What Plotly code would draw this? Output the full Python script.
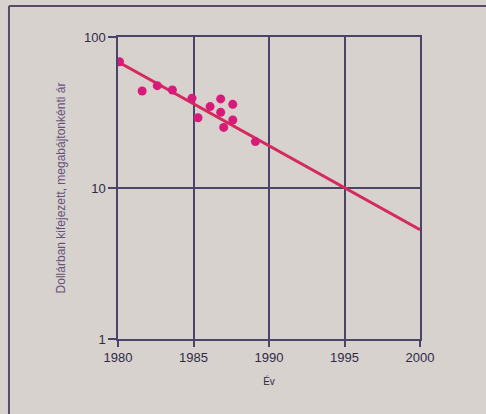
import plotly.graph_objects as go

# Data
years = [1980.1, 1981.6, 1982.6, 1983.6, 1984.9, 1985.3, 1986.1, 1986.8, 1986.8,
         1987.6, 1987.6, 1987.0, 1989.1]
prices = [68.6, 43.9, 47.6, 44.6, 39.3, 29.2, 34.6, 38.9, 31.7, 35.8, 28.2, 25.2, 20.3]

trend_years = [1980, 2000]
trend_prices = [68.6, 5.3]

x_ticks = [1980, 1985, 1990, 1995, 2000]
y_ticks = [1, 10, 100]
y_tick_labels = ["1", "10", "100"]

bg = "#d8d2cf"
grid = "#4a4468"
text_col = "#2f2a45"

fig = go.Figure()
fig.add_trace(go.Scatter(
    x=trend_years, y=trend_prices, mode="lines",
    line=dict(color="#d42a5c", width=3), showlegend=False, hoverinfo="skip"))
fig.add_trace(go.Scatter(
    x=years, y=prices, mode="markers",
    marker=dict(color="#d81b7a", size=9), showlegend=False))

fig.update_layout(
    width=486, height=414,
    margin=dict(l=118, r=66, t=37, b=75, autoexpand=False),
    paper_bgcolor=bg, plot_bgcolor=bg,
    font=dict(family="Liberation Sans, Arial, sans-serif", color=text_col),
    xaxis=dict(
        range=[1980, 2000], tickvals=x_ticks,
        showgrid=True, gridcolor=grid, gridwidth=1.5,
        showline=True, linecolor=grid, linewidth=1.5, mirror=True,
        ticks="outside", ticklen=6, tickcolor=grid, tickwidth=1.5,
        tickfont=dict(size=13, color=text_col),
        zeroline=False,
        title=dict(text="Év", font=dict(size=10, color=text_col), standoff=14),
    ),
    yaxis=dict(
        type="log", range=[0, 2], tickvals=y_ticks, ticktext=y_tick_labels,
        showgrid=True, gridcolor=grid, gridwidth=1.5,
        showline=True, linecolor=grid, linewidth=1.5, mirror=True,
        ticks="outside", ticklen=8, tickcolor=grid, tickwidth=1.5,
        tickfont=dict(size=13, color=text_col),
        zeroline=False,
        title=dict(text="Dollárban kifejezett, megabájtonkénti ár",
                   font=dict(size=12, color="#65517a"), standoff=16),
    ),
    shapes=[
        dict(type="line", xref="paper", yref="paper", x0=-0.361, x1=1.25, y0=1.103, y1=1.103,
             line=dict(color="#5a4a66", width=2)),
        dict(type="line", xref="paper", yref="paper", x0=-0.361, x1=-0.361, y0=1.103, y1=-0.25,
             line=dict(color="#5a4a66", width=2)),
    ],
)

fig.write_html(
    "out.html",
    config={"displayModeBar": False},
    post_script="document.body.style.margin='0';document.body.style.background='#d8d2cf';",
)
